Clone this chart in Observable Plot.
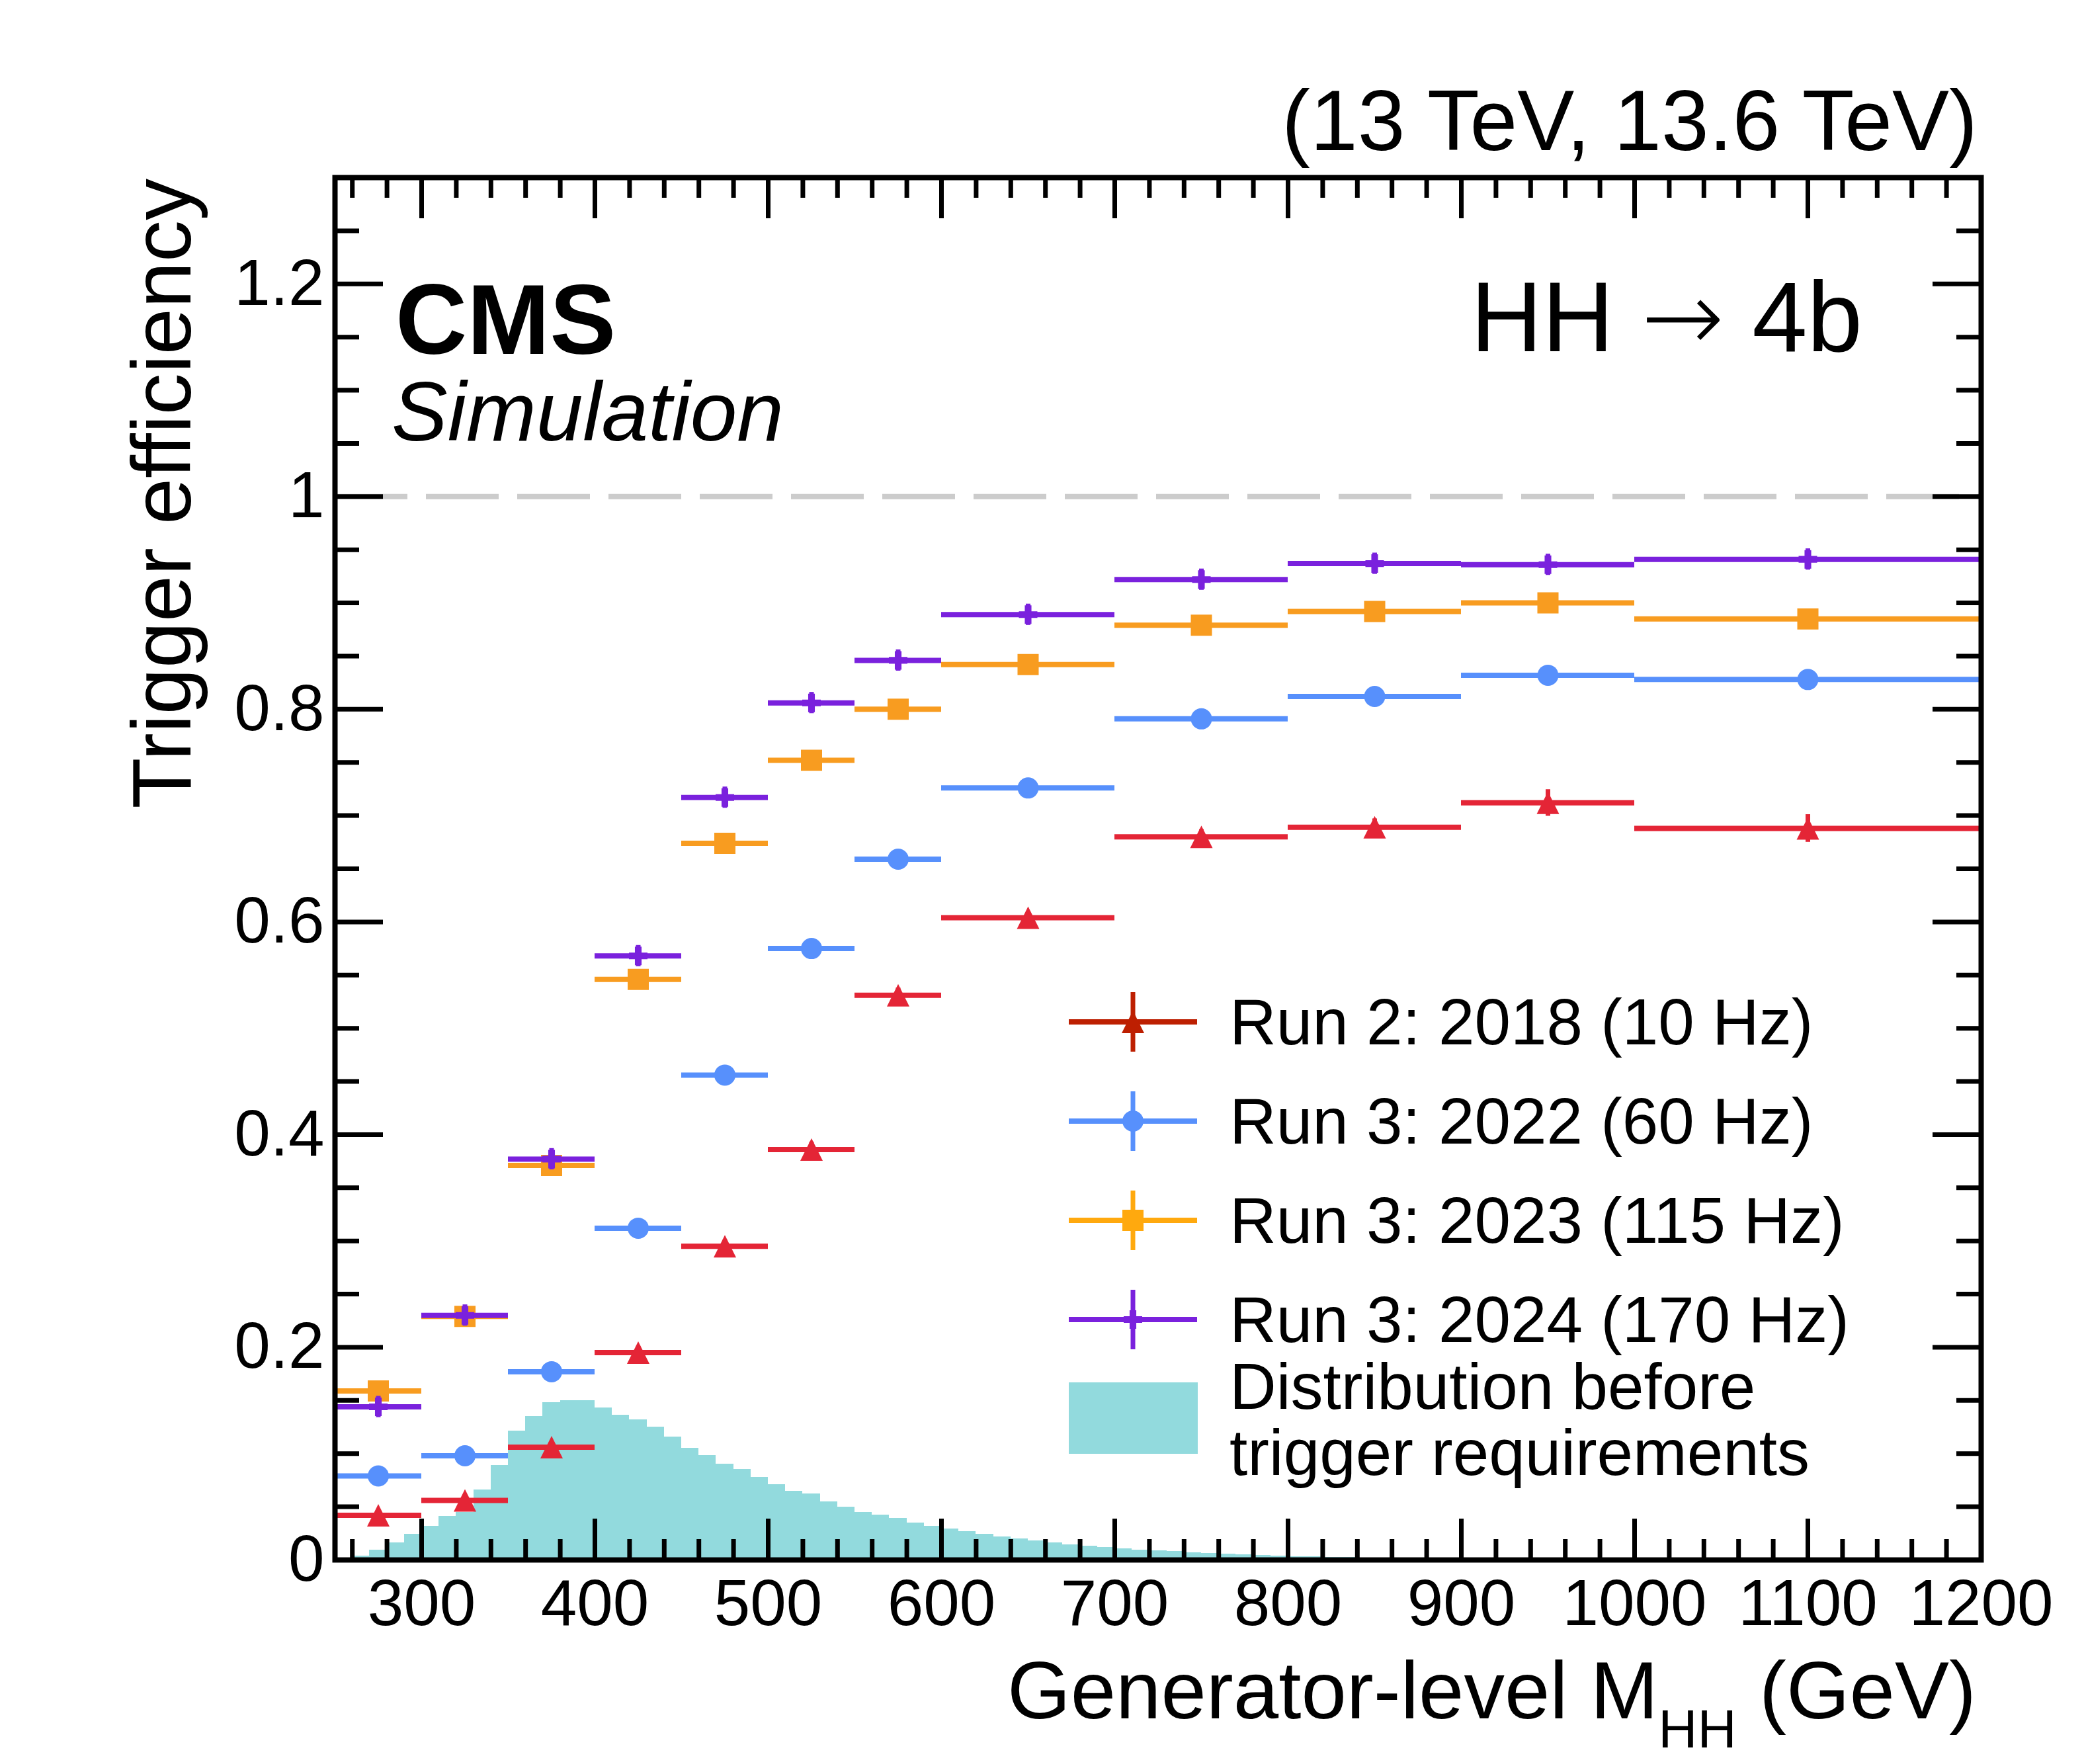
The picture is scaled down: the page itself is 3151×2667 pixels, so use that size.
<!DOCTYPE html>
<html>
<head>
<meta charset="utf-8">
<script src="https://cdn.jsdelivr.net/npm/d3@7"></script>
<script src="https://cdn.jsdelivr.net/npm/@observablehq/plot@0.6"></script>
<style>
  html, body { margin: 0; padding: 0; background: #fff; }
  svg { display: block; }
</style>
</head>
<body>
<div id="chart"></div>
<script>
// ---------------- DATA ----------------
const binEdgesLow  = [250, 300, 350, 400, 450, 500, 550, 600, 700, 800, 900, 1000];
const binEdgesHigh = [300, 350, 400, 450, 500, 550, 600, 700, 800, 900, 1000, 1200];
const binCenters   = [275, 325, 375, 425, 475, 525, 575, 650, 750, 850, 950, 1100];

const effRun2_2018 = [0.042, 0.056, 0.106, 0.195, 0.295, 0.386, 0.531, 0.604, 0.680, 0.689, 0.712, 0.688];
const effRun3_2022 = [0.079, 0.098, 0.177, 0.312, 0.456, 0.575, 0.659, 0.726, 0.791, 0.812, 0.832, 0.828];
const effRun3_2023 = [0.159, 0.229, 0.371, 0.546, 0.674, 0.752, 0.800, 0.842, 0.879, 0.892, 0.900, 0.885];
const effRun3_2024 = [0.144, 0.230, 0.377, 0.568, 0.717, 0.806, 0.846, 0.889, 0.922, 0.937, 0.936, 0.941];

const errRun2_2018 = [0.004, 0.004, 0.005, 0.006, 0.006, 0.007, 0.007, 0.006, 0.007, 0.008, 0.0125, 0.013];
const errRun3_2022 = [0.005, 0.005, 0.006, 0.006, 0.006, 0.006, 0.006, 0.005, 0.006, 0.007, 0.008, 0.008];
const errRun3_2023 = [0.006, 0.006, 0.006, 0.006, 0.006, 0.006, 0.006, 0.005, 0.006, 0.007, 0.008, 0.009];
const errRun3_2024 = [0.010, 0.010, 0.010, 0.010, 0.010, 0.010, 0.010, 0.010, 0.010, 0.010, 0.010, 0.010];

// Generator-level MHH distribution before trigger (10 GeV bins starting at 250 GeV)
const histBinWidth = 10;
const histValues = [
  0.0015, 0.0040, 0.0095, 0.0160, 0.0240, 0.0320, 0.0410, 0.0450, 0.0660, 0.0890,
  0.1210, 0.1350, 0.1480, 0.1500, 0.1500, 0.1430, 0.1360, 0.1320, 0.1250, 0.1160,
  0.1050, 0.0980, 0.0900, 0.0850, 0.0780, 0.0710, 0.0650, 0.0620, 0.0550, 0.0500,
  0.0450, 0.0420, 0.0390, 0.0350, 0.0320, 0.0295, 0.0270, 0.0240, 0.0220, 0.0200,
  0.0180, 0.0160, 0.0145, 0.0130, 0.0120, 0.0107, 0.0095, 0.0087, 0.0078, 0.0070,
  0.0062, 0.0054, 0.0048, 0.0042, 0.0038, 0.0033, 0.0029, 0.0025, 0.0022, 0.0020,
  0.0017, 0.0015, 0.0013, 0.0012, 0.0011, 0.0010, 0.0010, 0.0009, 0.0009, 0.0008,
  0.0008, 0.0007, 0.0007, 0.0006, 0.0006, 0.0006, 0.0005, 0.0005, 0.0005, 0.0005,
  0.0005, 0.0005, 0.0004, 0.0004, 0.0004, 0.0004, 0.0004, 0.0004, 0.0004, 0.0003,
  0.0003, 0.0003, 0.0003, 0.0003, 0.0003
];

const xTickValues = [300, 400, 500, 600, 700, 800, 900, 1000, 1100, 1200];
const xTickLabels = ["300", "400", "500", "600", "700", "800", "900", "1000", "1100", "1200"];
const yTickValues = [0, 0.2, 0.4, 0.6, 0.8, 1, 1.2];
const yTickLabels = ["0", "0.2", "0.4", "0.6", "0.8", "1", "1.2"];

const seriesNames  = ["Run 2: 2018 (10 Hz)", "Run 3: 2022 (60 Hz)", "Run 3: 2023 (115 Hz)", "Run 3: 2024 (170 Hz)"];
const seriesColors = ["#e42536", "#5790fc", "#f89c20", "#7a21dd"];
const legendColors = ["#bd1f01", "#5790fc", "#ffa90e", "#7a21dd"];
const histLabel = ["Distribution before", "trigger requirements"];
const histColor = "#92dadd";

// ---------------- SYMBOLS (ROOT-like markers) ----------------
const triangleSym = { draw(ctx, size) { const h = Math.sqrt(size / Math.PI);
  ctx.moveTo(0, -h); ctx.lineTo(h, h); ctx.lineTo(-h, h); ctx.closePath(); } };
const squareSym = { draw(ctx, size) { const h = Math.sqrt(size / Math.PI);
  ctx.moveTo(-h, -h); ctx.lineTo(h, -h); ctx.lineTo(h, h); ctx.lineTo(-h, h); ctx.closePath(); } };
const crossSym = { draw(ctx, size) { const h = Math.sqrt(size / Math.PI), t = h * 0.36;
  ctx.moveTo(-t, -h); ctx.lineTo(t, -h); ctx.lineTo(t, -t); ctx.lineTo(h, -t); ctx.lineTo(h, t);
  ctx.lineTo(t, t); ctx.lineTo(t, h); ctx.lineTo(-t, h); ctx.lineTo(-t, t); ctx.lineTo(-h, t);
  ctx.lineTo(-h, -t); ctx.lineTo(-t, -t); ctx.closePath(); } };
const seriesSymbols = [triangleSym, "circle", squareSym, crossSym];
const seriesSizes   = [17, 16, 16, 14];

// ---------------- TABLES ----------------
const effAll = [effRun2_2018, effRun3_2022, effRun3_2023, effRun3_2024];
const errAll = [errRun2_2018, errRun3_2022, errRun3_2023, errRun3_2024];
const series = seriesNames.map((name, s) => binCenters.map((c, i) => ({
  name, c, lo: binEdgesLow[i], hi: binEdgesHigh[i], eff: effAll[s][i], err: errAll[s][i]
})));
const hist = histValues.map((v, i) => ({ lo: 250 + i * histBinWidth, hi: 250 + (i + 1) * histBinWidth, v }));

const xMinor = d3.range(260, 1200, 20).filter(v => v % 100 !== 0);
const yMinor = d3.range(0, 27).map(i => Math.round(i * 5) / 100).filter(v => Math.round(v * 100) % 20 !== 0);

// ---------------- LAYOUT ----------------
const W = 3151, H = 2667;
const mL = 506, mR = 156, mT = 268, mB = 309;
const frameW = W - mL - mR, frameH = H - mT - mB;
const xMajLen = 62, xMinLen = 31, yMajLen = 73, yMinLen = 37;
const FONT = "'Liberation Sans', Arial, Helvetica, sans-serif";

const marks = [
  Plot.rectY(hist, { x1: "lo", x2: "hi", y: "v", fill: histColor, shapeRendering: "crispEdges" }),
  Plot.ruleY([1], { stroke: "#cccccc", strokeWidth: 8, strokeDasharray: "110,28" })
];
series.forEach((pts, s) => {
  marks.push(
    Plot.ruleY(pts, { y: "eff", x1: "lo", x2: "hi", stroke: seriesColors[s], strokeWidth: 8 }),
    Plot.ruleX(pts, { x: "c", y1: d => d.eff - d.err, y2: d => d.eff + d.err, stroke: seriesColors[s], strokeWidth: 7 }),
    Plot.dot(pts, { x: "c", y: "eff", symbol: seriesSymbols[s], r: seriesSizes[s], fill: seriesColors[s], stroke: "none" })
  );
});
marks.push(
  Plot.tickX(xTickValues, { x: d => d, insetTop: frameH - xMajLen, stroke: "black", strokeWidth: 7 }),
  Plot.tickX(xMinor,      { x: d => d, insetTop: frameH - xMinLen, stroke: "black", strokeWidth: 7 }),
  Plot.tickX(xTickValues, { x: d => d, insetBottom: frameH - xMajLen, stroke: "black", strokeWidth: 7 }),
  Plot.tickX(xMinor,      { x: d => d, insetBottom: frameH - xMinLen, stroke: "black", strokeWidth: 7 }),
  Plot.tickY(yTickValues, { y: d => d, insetRight: frameW - yMajLen, stroke: "black", strokeWidth: 7 }),
  Plot.tickY(yMinor,      { y: d => d, insetRight: frameW - yMinLen, stroke: "black", strokeWidth: 7 }),
  Plot.tickY(yTickValues, { y: d => d, insetLeft: frameW - yMajLen, stroke: "black", strokeWidth: 7 }),
  Plot.tickY(yMinor,      { y: d => d, insetLeft: frameW - yMinLen, stroke: "black", strokeWidth: 7 }),
  Plot.frame({ stroke: "black", strokeWidth: 8 })
);

const chart = Plot.plot({
  width: W, height: H,
  marginLeft: mL, marginRight: mR, marginTop: mT, marginBottom: mB,
  style: { fontFamily: FONT, fontSize: "98px", background: "white", color: "black" },
  x: { domain: [250, 1200], ticks: xTickValues, tickFormat: d => xTickLabels[xTickValues.indexOf(d)],
       tickSize: 0, tickPadding: 29, label: null },
  y: { domain: [0, 1.3], ticks: yTickValues, tickFormat: d => yTickLabels[yTickValues.indexOf(d)],
       tickSize: 0, tickPadding: 16, label: null },
  marks
});
document.getElementById("chart").appendChild(chart);

// ---------------- TEXT & LEGEND ----------------
const svg = d3.select(chart);
const g = svg.append("g").attr("font-family", FONT).attr("fill", "black").attr("text-anchor", "start");

// axis titles
const xt = g.append("text").attr("x", 2988).attr("y", 2598).attr("text-anchor", "end").attr("font-size", 123);
xt.append("tspan").text("Generator-level M");
xt.append("tspan").attr("font-size", 82).attr("dy", 44).text("HH");
xt.append("tspan").attr("dy", -44).text(" (GeV)");

g.append("text").attr("transform", "translate(288,270) rotate(-90)").attr("text-anchor", "end")
  .attr("font-size", 126).text("Trigger efficiency");

// labels
g.append("text").attr("x", 2990).attr("y", 227).attr("text-anchor", "end").attr("font-size", 129).text("(13 TeV, 13.6 TeV)");
g.append("text").attr("x", 598).attr("y", 535).attr("text-anchor", "start").attr("font-size", 150).attr("font-weight", "bold").text("CMS");
g.append("text").attr("x", 592).attr("y", 666).attr("text-anchor", "start").attr("font-size", 127).attr("font-style", "italic").text("Simulation");
const hh = g.append("text").attr("x", 2816).attr("y", 531).attr("text-anchor", "end").attr("font-size", 150);
hh.append("tspan").text("HH ");
hh.append("tspan").attr("font-family", "'DejaVu Sans', sans-serif").attr("font-weight", 200).text("\u2192");
hh.append("tspan").text(" 4b");

// legend
const lgX = 1713, lgHalf = 97, lgRows = [1545, 1695, 1845, 1995];
seriesNames.forEach((name, s) => {
  const y = lgRows[s], col = legendColors[s];
  g.append("line").attr("x1", lgX - lgHalf).attr("x2", lgX + lgHalf).attr("y1", y).attr("y2", y)
    .attr("stroke", col).attr("stroke-width", 8);
  g.append("line").attr("x1", lgX).attr("x2", lgX).attr("y1", y - 45).attr("y2", y + 45)
    .attr("stroke", col).attr("stroke-width", 7);
  const sym = typeof seriesSymbols[s] === "string" ? d3.symbolCircle : seriesSymbols[s];
  const r = seriesSizes[s];
  g.append("path").attr("d", d3.symbol(sym, r * r * Math.PI)()).attr("transform", `translate(${lgX},${y})`).attr("fill", col);
  g.append("text").attr("x", 1859).attr("y", y + 34).attr("text-anchor", "start").attr("font-size", 98).text(name);
});
g.append("rect").attr("x", 1616).attr("y", 2090).attr("width", 195).attr("height", 108).attr("fill", histColor);
g.append("text").attr("x", 1859).attr("y", 2130).attr("text-anchor", "start").attr("font-size", 98).text(histLabel[0]);
g.append("text").attr("x", 1859).attr("y", 2230).attr("text-anchor", "start").attr("font-size", 98).text(histLabel[1]);
</script>
</body>
</html>
